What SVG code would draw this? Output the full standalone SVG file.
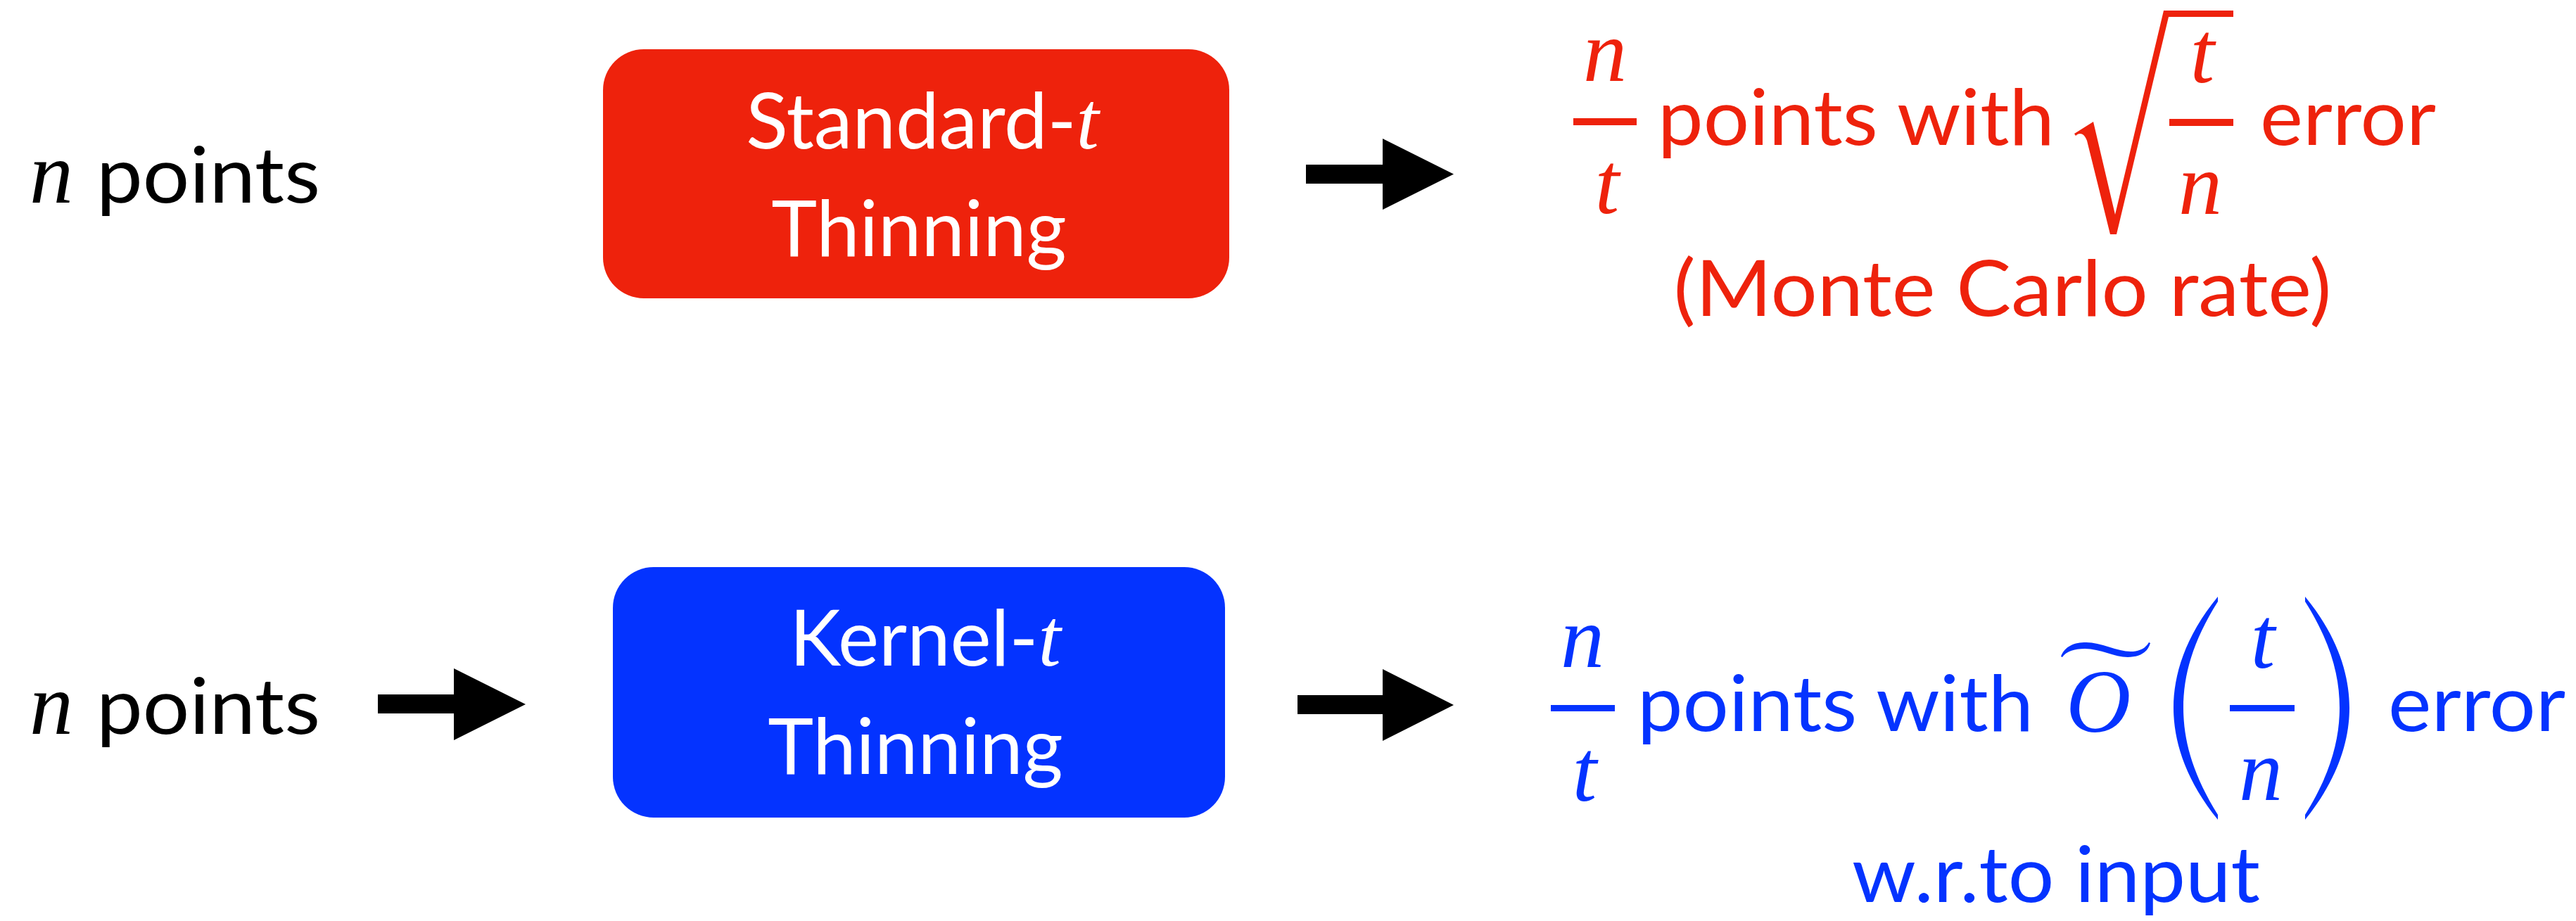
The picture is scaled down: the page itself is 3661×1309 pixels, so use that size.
<svg xmlns="http://www.w3.org/2000/svg" width="3661" height="1309" viewBox="0 0 3661 1309">
<style>
.sans{font-family:Lato,"Open Sans","Liberation Sans",sans-serif;font-size:110px}
.math{font-family:"Liberation Serif","Times New Roman",serif;font-style:italic;font-size:124px}
.red{fill:#EE220C}
.blue{fill:#0433FF}
.blk{fill:#000000}
.wht{fill:#FFFFFF}
</style>
<rect width="3661" height="1309" fill="#FFFFFF"/>

<g id="input-top">
<text class="math blk" x="42" y="288">n</text>
<text class="sans blk" x="137" y="288" textLength="318" lengthAdjust="spacingAndGlyphs">points</text>
</g>

<g id="standard-thinning">
<rect class="red" x="857" y="70" width="890" height="354" rx="58" ry="58"/>
<text class="sans wht" x="1311" y="211" text-anchor="middle">Standard-<tspan class="math" style="font-size:116px">t</tspan></text>
<text class="sans wht" x="1306" y="364" text-anchor="middle">Thinning</text>
</g>

<g id="output-top" class="red">
<text class="math" x="2281" y="115" text-anchor="middle">n</text>
<rect x="2236" y="168" width="90" height="10"/>
<text class="math" x="2284" y="303" text-anchor="middle">t</text>
<text class="sans" x="2356" y="206" textLength="564" lengthAdjust="spacingAndGlyphs">points with</text>
<path d="M2948,190 L2975,173 L3006,305 L3075,15 L3174,15 L3174,24 L3082,24 L3008,333 L2999,333 L2966,200 C2962,189 2955,188 2950,193 Z"/>
<text class="math" x="3130" y="117" text-anchor="middle">t</text>
<rect x="3083" y="169" width="91" height="10"/>
<text class="math" x="3127" y="304" text-anchor="middle">n</text>
<text class="sans" x="3212" y="206" textLength="250" lengthAdjust="spacingAndGlyphs">error</text>
<text class="sans" x="2846" y="449" text-anchor="middle" textLength="935" lengthAdjust="spacingAndGlyphs">(Monte Carlo rate)</text>
</g>

<g id="input-bottom">
<text class="math blk" x="42" y="1043">n</text>
<text class="sans blk" x="137" y="1043" textLength="318" lengthAdjust="spacingAndGlyphs">points</text>
</g>

<g id="kernel-thinning">
<rect class="blue" x="871" y="806" width="870" height="356" rx="58" ry="58"/>
<text class="sans wht" x="1315" y="946" text-anchor="middle">Kernel-<tspan class="math" style="font-size:116px">t</tspan></text>
<text class="sans wht" x="1301" y="1100" text-anchor="middle">Thinning</text>
</g>

<g id="output-bottom" class="blue">
<text class="math" x="2249" y="948" text-anchor="middle">n</text>
<rect x="2204" y="1002" width="91" height="9"/>
<text class="math" x="2252" y="1138" text-anchor="middle">t</text>
<text class="sans" x="2327" y="1039" textLength="563" lengthAdjust="spacingAndGlyphs">points with</text>
<path d="M2929,933 C2935,918 2948,913 2965,913 C2985,913 3010,926 3028,926 C3042,926 3050,920 3054,913 L3056,914 C3052,928 3040,934 3024,934 C3005,934 2985,922 2963,922 C2948,922 2936,926 2931,934 Z"/>
<text class="math" x="2936" y="1040" style="font-size:128px">O</text>
<path d="M3152,848 C3105,905 3089,960 3089,1006 C3089,1052 3105,1107 3152,1165 L3152,1158 C3116,1100 3103,1052 3103,1006 C3103,960 3116,912 3152,855 Z"/>
<path transform="translate(6428,0) scale(-1,1)" d="M3152,848 C3105,905 3089,960 3089,1006 C3089,1052 3105,1107 3152,1165 L3152,1158 C3116,1100 3103,1052 3103,1006 C3103,960 3116,912 3152,855 Z"/>
<text class="math" x="3216" y="949" text-anchor="middle">t</text>
<rect x="3169" y="1002" width="92" height="9"/>
<text class="math" x="3213" y="1137" text-anchor="middle">n</text>
<text class="sans" x="3394" y="1039" textLength="252" lengthAdjust="spacingAndGlyphs">error</text>
<text class="sans" x="2922" y="1282" text-anchor="middle" textLength="580" lengthAdjust="spacingAndGlyphs">w.r.to input</text>
</g>

<g id="connectors" class="blk">
<path d="M1856,234 H1965 V197 L2066,247.5 L1965,298 V261 H1856 Z"/>
<path d="M537,987 H645 V950 L747,1001 L645,1052 V1014 H537 Z"/>
<path d="M1844,988 H1965 V951 L2066,1002 L1965,1053 V1015 H1844 Z"/>
</g>
</svg>
